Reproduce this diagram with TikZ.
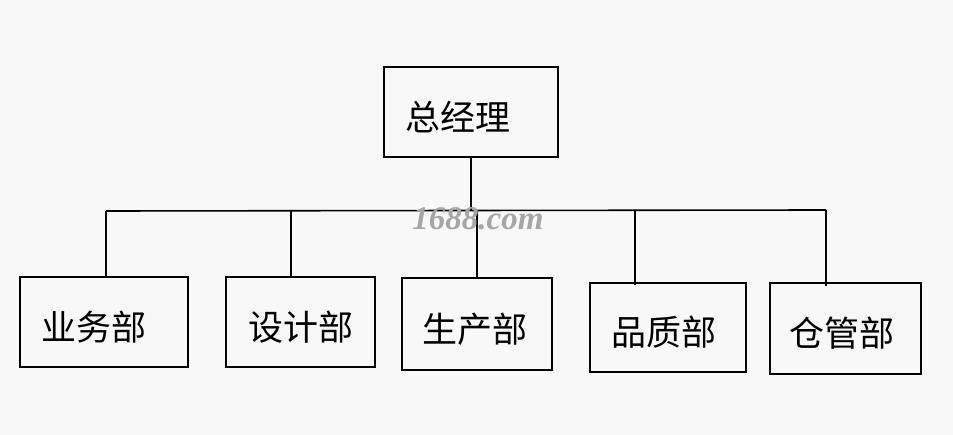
\documentclass[tikz,border=0pt]{standalone}
\usepackage{fontspec}
\newfontfamily\cjk{Noto Sans CJK SC}
\newfontfamily\markfont{Liberation Serif}
\usetikzlibrary{positioning}
\definecolor{paper}{HTML}{F8F8F8}

\begin{document}
\begin{tikzpicture}[
    x=1pt, y=-1pt,
    dept/.style={rectangle, draw=black, line width=1.6pt, fill=none,
                 inner sep=0pt, text height=37pt, text depth=0pt,
                 font=\cjk\fontsize{35}{40}\selectfont},
    link/.style={line width=1.6pt},
]

% Canvas
\fill[paper] (0,0) rectangle (953,435);
\useasboundingbox (0,0) rectangle (953,435);

% Head
\node[dept, minimum width=174pt, minimum height=90pt] (head) at (471,112) {\hspace*{-26pt}总经理};

% Departments
\node[dept, minimum width=168pt, minimum height=90pt] (yewu)    at (104,322) {\hspace*{-20pt}业务部};
\node[dept, minimum width=149pt, minimum height=90pt] (sheji)   at (300.5,322) {设计部};
\node[dept, minimum width=150pt, minimum height=92pt] (shengch) at (477,324) {\hspace*{-4pt}生产部};
\node[dept, minimum width=156pt, minimum height=89pt] (pinzhi)  at (668,327.5) {\hspace*{-8pt}品质部};
\node[dept, minimum width=151pt, minimum height=91pt] (cangg)   at (845.5,328.5) {\hspace*{-7pt}仓管部};

% Bus
\coordinate (busL) at (106,211);
\coordinate (busR) at (826,210);
\coordinate (dA) at (291,211);
\coordinate (dB) at (477,211);
\coordinate (dC) at (635,210);

\draw[link] (head.south) -- (head.south |- busL);
\draw[link] (busL) -- (busR);

\draw[link] (busL) -- (busL |- yewu.north);
\draw[link] (dA)   -- (dA |- sheji.north);
\draw[link] (dB)   -- (dB |- shengch.north);
\draw[link] (dC)   -- ([yshift=-3pt]dC |- pinzhi.north);
\draw[link] (busR) -- ([yshift=-4pt]busR |- cangg.north);

% Watermark
\node[font=\markfont\bfseries\itshape\fontsize{33}{33}\selectfont,
      text=black!35] (mark) at (478,219) {1688.com};

\end{tikzpicture}
\end{document}
